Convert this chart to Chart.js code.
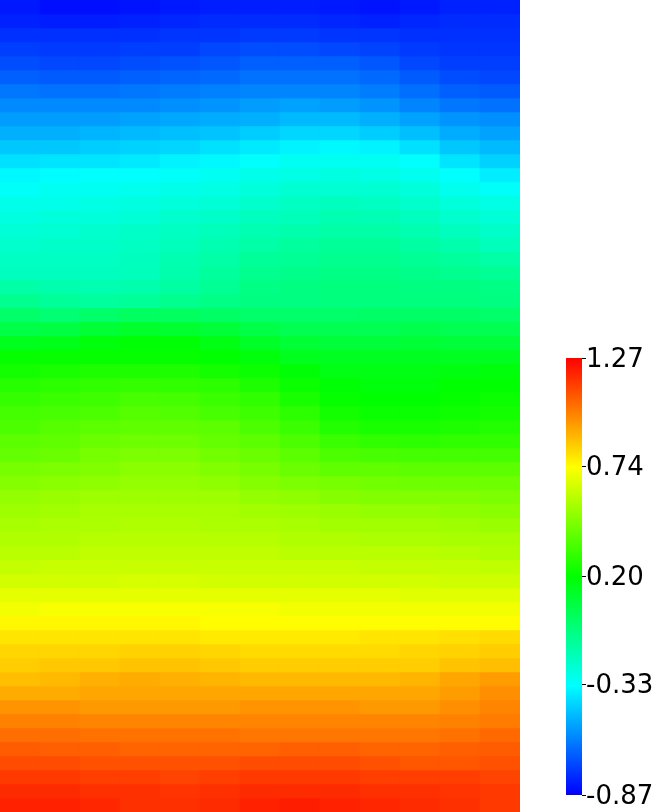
<!DOCTYPE html>
<html>
<head>
<meta charset="utf-8">
<script src="https://cdn.jsdelivr.net/npm/chart.js@4.4.1/dist/chart.umd.min.js"></script>
<style>
html,body{margin:0;padding:0;background:#fff;width:653px;height:812px;overflow:hidden;}
#field{position:absolute;left:0;top:0;}
#bar{position:absolute;left:566px;top:340px;}
</style>
</head>
<body>
<canvas id="field" width="520" height="812"></canvas>
<canvas id="bar" width="87" height="472"></canvas>
<script>
// colour range and colour bar tick labels
const vMin = -0.87, vMax = 1.27;
const colorbarTicks = [-0.87, -0.33, 0.20, 0.74, 1.27];

// grid columns (left to right)
const columnLabels = ['c1','c2','c3','c4','c5','c6','c7','c8','c9','c10','c11','c12','c13'];

// field values per grid row, top to bottom
const r00 = [-0.82,-0.84,-0.84,-0.83,-0.82,-0.81,-0.81,-0.81,-0.82,-0.83,-0.82,-0.80,-0.80];
const r01 = [-0.80,-0.81,-0.81,-0.80,-0.79,-0.78,-0.78,-0.78,-0.79,-0.80,-0.79,-0.78,-0.78];
const r02 = [-0.77,-0.77,-0.77,-0.77,-0.76,-0.76,-0.75,-0.75,-0.76,-0.76,-0.77,-0.77,-0.77];
const r03 = [-0.74,-0.75,-0.75,-0.74,-0.74,-0.72,-0.71,-0.71,-0.72,-0.73,-0.75,-0.76,-0.76];
const r04 = [-0.71,-0.72,-0.72,-0.71,-0.70,-0.69,-0.67,-0.67,-0.67,-0.69,-0.72,-0.74,-0.74];
const r05 = [-0.67,-0.68,-0.68,-0.67,-0.66,-0.65,-0.63,-0.63,-0.63,-0.65,-0.68,-0.71,-0.72];
const r06 = [-0.62,-0.63,-0.63,-0.62,-0.61,-0.60,-0.59,-0.59,-0.59,-0.61,-0.64,-0.67,-0.68];
const r07 = [-0.58,-0.58,-0.58,-0.58,-0.57,-0.56,-0.54,-0.53,-0.54,-0.56,-0.59,-0.62,-0.63];
const r08 = [-0.54,-0.54,-0.54,-0.53,-0.52,-0.51,-0.50,-0.48,-0.48,-0.50,-0.53,-0.56,-0.57];
const r09 = [-0.50,-0.50,-0.49,-0.48,-0.47,-0.46,-0.44,-0.42,-0.42,-0.44,-0.47,-0.51,-0.53];
const r10 = [-0.45,-0.45,-0.44,-0.43,-0.42,-0.40,-0.38,-0.36,-0.35,-0.36,-0.40,-0.45,-0.48];
const r11 = [-0.40,-0.39,-0.39,-0.38,-0.36,-0.35,-0.33,-0.31,-0.31,-0.31,-0.33,-0.39,-0.43];
const r12 = [-0.35,-0.34,-0.33,-0.33,-0.32,-0.31,-0.29,-0.28,-0.27,-0.28,-0.30,-0.33,-0.37];
const r13 = [-0.32,-0.31,-0.31,-0.30,-0.29,-0.28,-0.26,-0.24,-0.24,-0.24,-0.26,-0.30,-0.32];
const r14 = [-0.29,-0.29,-0.28,-0.27,-0.26,-0.25,-0.23,-0.21,-0.20,-0.21,-0.23,-0.26,-0.28];
const r15 = [-0.27,-0.26,-0.26,-0.25,-0.23,-0.22,-0.20,-0.19,-0.17,-0.18,-0.20,-0.23,-0.25];
const r16 = [-0.25,-0.24,-0.23,-0.22,-0.21,-0.19,-0.17,-0.16,-0.15,-0.15,-0.17,-0.20,-0.22];
const r17 = [-0.23,-0.22,-0.22,-0.21,-0.19,-0.17,-0.15,-0.13,-0.12,-0.12,-0.14,-0.16,-0.19];
const r18 = [-0.21,-0.21,-0.21,-0.20,-0.17,-0.15,-0.12,-0.11,-0.10,-0.10,-0.11,-0.13,-0.15];
const r19 = [-0.20,-0.20,-0.20,-0.19,-0.16,-0.13,-0.10,-0.09,-0.08,-0.08,-0.09,-0.10,-0.11];
const r20 = [-0.15,-0.16,-0.17,-0.16,-0.14,-0.11,-0.08,-0.07,-0.06,-0.06,-0.07,-0.07,-0.08];
const r21 = [-0.10,-0.12,-0.13,-0.12,-0.10,-0.08,-0.07,-0.07,-0.06,-0.06,-0.06,-0.06,-0.07];
const r22 = [-0.02,-0.04,-0.02,0.00,0.00,-0.01,-0.02,-0.02,-0.02,-0.01,-0.01,-0.01,-0.02];
const r23 = [0.05,0.06,0.09,0.11,0.10,0.08,0.05,0.03,0.03,0.03,0.04,0.03,0.03];
const r24 = [0.14,0.15,0.18,0.19,0.19,0.16,0.12,0.09,0.08,0.08,0.09,0.08,0.08];
const r25 = [0.21,0.21,0.21,0.21,0.21,0.20,0.18,0.14,0.13,0.13,0.13,0.13,0.13];
const r26 = [0.24,0.25,0.26,0.26,0.26,0.24,0.22,0.19,0.16,0.16,0.16,0.17,0.18];
const r27 = [0.28,0.29,0.30,0.31,0.30,0.29,0.26,0.22,0.19,0.18,0.18,0.20,0.20];
const r28 = [0.31,0.32,0.33,0.35,0.34,0.32,0.30,0.25,0.21,0.20,0.20,0.21,0.22];
const r29 = [0.34,0.35,0.36,0.38,0.37,0.35,0.33,0.29,0.24,0.22,0.22,0.23,0.24];
const r30 = [0.36,0.38,0.39,0.40,0.40,0.39,0.36,0.32,0.27,0.25,0.25,0.26,0.27];
const r31 = [0.39,0.40,0.42,0.43,0.43,0.41,0.39,0.36,0.32,0.30,0.29,0.30,0.30];
const r32 = [0.41,0.42,0.45,0.46,0.46,0.44,0.42,0.39,0.36,0.35,0.34,0.34,0.34];
const r33 = [0.45,0.46,0.47,0.49,0.49,0.47,0.45,0.42,0.40,0.40,0.39,0.39,0.39];
const r34 = [0.48,0.49,0.50,0.51,0.51,0.50,0.48,0.46,0.45,0.44,0.43,0.43,0.43];
const r35 = [0.51,0.52,0.53,0.53,0.53,0.53,0.51,0.50,0.48,0.47,0.47,0.47,0.46];
const r36 = [0.53,0.54,0.55,0.55,0.55,0.55,0.54,0.53,0.52,0.51,0.51,0.50,0.49];
const r37 = [0.55,0.56,0.56,0.57,0.57,0.56,0.56,0.55,0.54,0.54,0.54,0.53,0.52];
const r38 = [0.57,0.57,0.58,0.58,0.58,0.58,0.58,0.57,0.57,0.56,0.56,0.55,0.55];
const r39 = [0.59,0.59,0.60,0.60,0.60,0.60,0.60,0.59,0.59,0.59,0.59,0.58,0.57];
const r40 = [0.61,0.62,0.62,0.62,0.62,0.62,0.62,0.62,0.62,0.61,0.61,0.61,0.60];
const r41 = [0.64,0.64,0.64,0.65,0.65,0.64,0.64,0.64,0.64,0.64,0.64,0.63,0.63];
const r42 = [0.68,0.68,0.68,0.68,0.68,0.68,0.68,0.68,0.68,0.68,0.67,0.67,0.67];
const r43 = [0.71,0.72,0.72,0.72,0.72,0.72,0.72,0.71,0.71,0.71,0.71,0.71,0.71];
const r44 = [0.75,0.75,0.75,0.75,0.75,0.74,0.74,0.74,0.74,0.74,0.74,0.74,0.74];
const r45 = [0.79,0.79,0.79,0.79,0.79,0.78,0.78,0.78,0.78,0.79,0.79,0.80,0.81];
const r46 = [0.82,0.82,0.82,0.83,0.83,0.82,0.81,0.81,0.81,0.81,0.82,0.83,0.84];
const r47 = [0.84,0.85,0.85,0.86,0.86,0.85,0.84,0.84,0.84,0.84,0.84,0.86,0.87];
const r48 = [0.87,0.88,0.90,0.91,0.90,0.89,0.88,0.88,0.88,0.88,0.89,0.92,0.94];
const r49 = [0.91,0.91,0.92,0.92,0.92,0.92,0.92,0.92,0.92,0.92,0.92,0.94,0.97];
const r50 = [0.96,0.96,0.95,0.95,0.95,0.95,0.96,0.96,0.96,0.95,0.95,0.97,0.99];
const r51 = [1.00,1.00,0.99,0.99,0.99,0.99,0.99,0.99,0.99,0.99,0.99,1.00,1.01];
const r52 = [1.04,1.04,1.03,1.03,1.03,1.03,1.02,1.02,1.02,1.02,1.02,1.03,1.05];
const r53 = [1.08,1.07,1.07,1.06,1.06,1.06,1.06,1.07,1.07,1.06,1.06,1.07,1.08];
const r54 = [1.11,1.11,1.10,1.10,1.10,1.10,1.11,1.11,1.11,1.10,1.09,1.09,1.10];
const r55 = [1.15,1.15,1.14,1.14,1.13,1.14,1.15,1.15,1.15,1.14,1.14,1.14,1.13];
const r56 = [1.18,1.18,1.17,1.17,1.16,1.17,1.18,1.18,1.18,1.17,1.17,1.16,1.15];
const r57 = [1.20,1.20,1.19,1.17,1.17,1.18,1.20,1.21,1.20,1.19,1.18,1.17,1.15];

const rows = [r00,r01,r02,r03,r04,r05,r06,r07,r08,r09,
              r10,r11,r12,r13,r14,r15,r16,r17,r18,r19,
              r20,r21,r22,r23,r24,r25,r26,r27,r28,r29,
              r30,r31,r32,r33,r34,r35,r36,r37,r38,r39,
              r40,r41,r42,r43,r44,r45,r46,r47,r48,r49,
              r50,r51,r52,r53,r54,r55,r56,r57];

// rainbow colour map: blue -> cyan -> green -> yellow -> red
function colorFor(v) {
  let t = (v - vMin) / (vMax - vMin);
  t = Math.max(0, Math.min(1, t));
  return 'hsl(' + (240 * (1 - t)).toFixed(2) + ',100%,50%)';
}

new Chart(document.getElementById('field'), {
  type: 'bar',
  data: {
    labels: columnLabels,
    datasets: rows.map((row, r) => ({
      data: row.map(() => [r, r + 1]),
      backgroundColor: row.map(colorFor),
      borderWidth: 0,
      grouped: false,
      barPercentage: 1,
      categoryPercentage: 1
    }))
  },
  options: {
    responsive: false,
    animation: false,
    events: [],
    layout: { padding: 0 },
    plugins: { legend: { display: false }, tooltip: { enabled: false } },
    scales: {
      x: { display: false },
      y: { display: false, min: 0, max: rows.length, reverse: true }
    }
  }
});

new Chart(document.getElementById('bar'), {
  type: 'bar',
  data: {
    labels: ['scale'],
    datasets: [{
      data: [[vMin, vMax]],
      backgroundColor: (context) => {
        const chart = context.chart;
        const area = chart.chartArea;
        if (!area) return null;
        const g = chart.ctx.createLinearGradient(0, area.bottom, 0, area.top);
        [0, 0.25, 0.5, 0.75, 1].forEach(s => g.addColorStop(s, colorFor(vMin + s * (vMax - vMin))));
        return g;
      },
      borderWidth: 0,
      barPercentage: 1,
      categoryPercentage: 1
    }]
  },
  options: {
    responsive: false,
    animation: false,
    events: [],
    layout: { padding: { top: 18, bottom: 17, left: 0, right: 0 } },
    plugins: { legend: { display: false }, tooltip: { enabled: false } },
    scales: {
      x: { display: false },
      y: {
        position: 'right',
        min: vMin,
        max: vMax,
        afterBuildTicks: (s) => { s.ticks = colorbarTicks.map(v => ({ value: v })); },
        afterFit: (s) => { s.width = 71; },
        border: { display: false },
        grid: { drawOnChartArea: false, drawTicks: true, tickLength: 4, color: '#000', lineWidth: 1 },
        ticks: {
          padding: 0,
          labelOffset: 2,
          color: '#000',
          font: { family: 'DejaVu Sans', size: 26 },
          callback: (v) => Number(v).toFixed(2)
        }
      }
    }
  }
});
</script>
</body>
</html>
